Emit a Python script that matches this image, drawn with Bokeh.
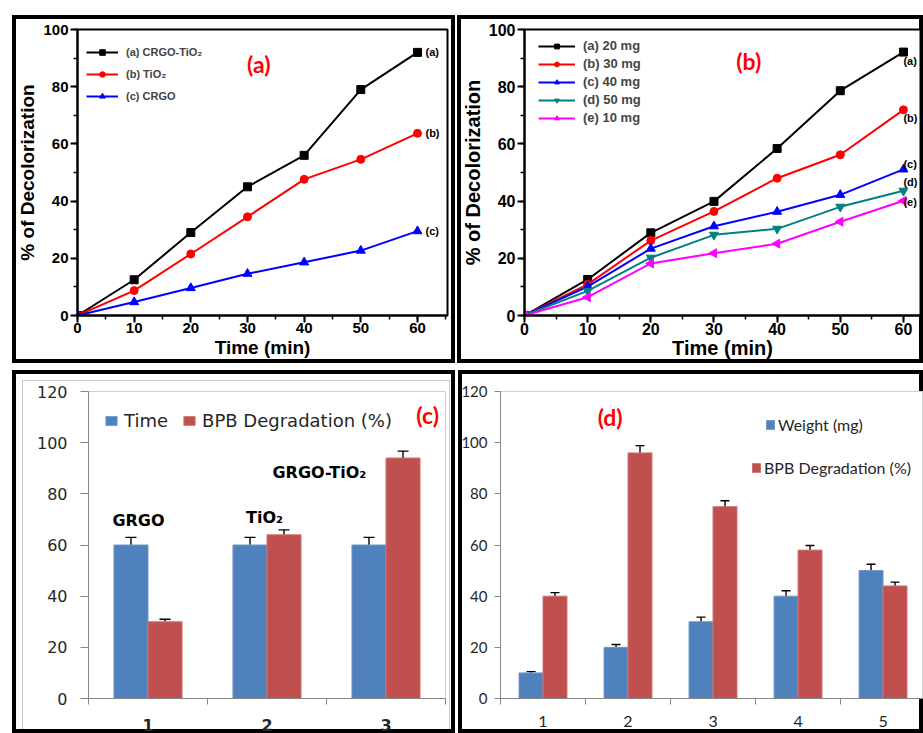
import numpy as np
from bokeh.plotting import figure
from bokeh.layouts import column, row
from bokeh.models import (ColumnDataSource, Legend, LegendItem, Label, Whisker, TeeHead,
                          FixedTicker, SingleIntervalTicker, Spacer, Range1d)
from bokeh.transform import dodge
from bokeh.core.properties import value
from bokeh.embed import file_html
from bokeh.resources import INLINE

# ---------------- data ----------------
# Panel (a)
time_min = [0, 10, 20, 30, 40, 50, 60]
a_names = ["(a) CRGO-TiO₂", "(b) TiO₂", "(c) CRGO"]
a_tags = ["(a)", "(b)", "(c)"]
a_crgo_tio2 = [0, 12.5, 29, 45, 56, 79, 92]
a_tio2 = [0, 8.7, 21.5, 34.5, 47.6, 54.6, 63.7]
a_crgo = [0, 4.7, 9.6, 14.6, 18.6, 22.7, 29.5]

# Panel (b)
b_names = ["(a) 20 mg", "(b) 30 mg", "(c) 40 mg", "(d) 50 mg", "(e) 10 mg"]
b_tags = ["(a)", "(b)", "(c)", "(d)", "(e)"]
b_20mg = [0, 12.6, 28.9, 39.9, 58.4, 78.6, 92.1]
b_30mg = [0, 10.9, 26.2, 36.4, 48.0, 56.2, 71.9]
b_40mg = [0, 10.1, 23.4, 31.2, 36.3, 42.2, 51.1]
b_50mg = [0, 8.6, 20.2, 28.2, 30.3, 38.0, 43.6]
b_10mg = [0, 6.4, 18.2, 21.8, 25.1, 32.8, 40.1]

# Panel (c)
c_cats = [1, 2, 3]
c_names = ["GRGO", "TiO₂", "GRGO-TiO₂"]
c_time = [60, 60, 60]
c_time_err = [3, 3, 3]
c_bpb = [30, 64, 94]
c_bpb_err = [1.0, 1.9, 2.7]

# Panel (d)
d_cats = [1, 2, 3, 4, 5]
d_weight = [10, 20, 30, 40, 50]
d_weight_err = [0.5, 1.1, 1.8, 2.1, 2.5]
d_bpb = [40, 96, 75, 58, 44]
d_bpb_err = [1.4, 2.85, 2.3, 1.8, 1.5]

BLUE_BAR = "#4F81BD"
RED_BAR = "#C0504D"
AXIS_GRAY = "#868686"


def frame_css(p, extra=""):
    p.border_fill_alpha = 0
    shadow = ("inset 4px 0 0 0 black, inset -4px 0 0 0 black, "
              "inset 0 4px 0 0 black, inset 0 -4px 0 0 black")
    if extra:
        shadow = shadow + ", " + extra
    p.styles = {"box-shadow": shadow}


def origin_axes(p, tick_px, title_px, x_title_standoff):
    p.grid.visible = False
    p.outline_line_color = "black"
    p.outline_line_width = 2
    for ax in (p.xaxis[0], p.yaxis[0]):
        ax.axis_line_width = 2
        ax.axis_line_color = "black"
        ax.major_tick_line_width = 2
        ax.minor_tick_line_width = 1.5
        ax.major_tick_in = 0
        ax.major_tick_out = 7
        ax.minor_tick_in = 0
        ax.minor_tick_out = 4
        ax.major_label_standoff = 2
        ax.major_label_text_font = "Liberation Sans"
        ax.major_label_text_font_style = "bold"
        ax.major_label_text_font_size = tick_px
        ax.major_label_text_color = "black"
        ax.axis_label_text_font = "Liberation Sans"
        ax.axis_label_text_font_style = "bold"
        ax.axis_label_text_font_size = title_px
        ax.axis_label_text_color = "black"
        ax.axis_label_standoff = 2
    p.xaxis.axis_label_standoff = x_title_standoff
    p.xaxis.major_label_standoff = 0
    p.xaxis.ticker = SingleIntervalTicker(interval=10, num_minor_ticks=2)
    p.yaxis.ticker = SingleIntervalTicker(interval=20, num_minor_ticks=2)


def line_panel(p, series, names, colors, markers, angles, sizes):
    items = []
    for ys, name, col, mk, ang, sz in zip(series, names, colors, markers, angles, sizes):
        l = p.line(time_min, ys, line_color=col, line_width=2)
        s = p.scatter(time_min, ys, marker=mk, size=sz, angle=ang,
                      fill_color=col, line_color=col)
        items.append(LegendItem(label=name, renderers=[l, s]))
    return items


# ---------------- panel (a) ----------------
pa = figure(width=443, height=348, x_range=Range1d(0, 65.3), y_range=Range1d(0, 100),
            output_backend="svg", toolbar_location=None,
            min_border_left=65, min_border_right=8, min_border_top=14, min_border_bottom=48,
            x_axis_label="Time (min)", y_axis_label="% of Decolorization")
origin_axes(pa, "15px", "19px", 1)
a_series = [a_crgo_tio2, a_tio2, a_crgo]
items_a = line_panel(pa, a_series, a_names, ["black", "red", "blue"],
                     ["square", "circle", "triangle"], [0, 0, 0], [8, 8, 9])
leg_a = Legend(items=items_a, location=(9, 212), padding=0, margin=0,
               glyph_width=32, glyph_height=14, label_height=14, spacing=8,
               label_standoff=8, border_line_alpha=0, background_fill_alpha=0,
               label_text_font="Liberation Sans", label_text_font_style="bold",
               label_text_font_size="11px")
pa.add_layout(leg_a)
pa.text(x=[time_min[-1]] * len(a_tags), y=[s[-1] for s in a_series], text=a_tags,
        x_offset=8, text_font=value("Liberation Sans"), text_font_style="bold",
        text_font_size="11px", text_baseline="middle", text_color="black")
pa.add_layout(Label(x=32, y=88, text="(a)", text_color="red", text_font="Lato",
                    text_font_style="bold", text_font_size="23px",
                    text_align="center", text_baseline="middle"))
frame_css(pa)

# ---------------- panel (b) ----------------
pb = figure(width=466, height=348, x_range=Range1d(0, 62.7), y_range=Range1d(0, 100),
            output_backend="svg", toolbar_location=None,
            min_border_left=67, min_border_right=3, min_border_top=14, min_border_bottom=46,
            x_axis_label="Time (min)", y_axis_label="% of Decolorization")
origin_axes(pb, "16px", "20px", -1)
b_series = [b_20mg, b_30mg, b_40mg, b_50mg, b_10mg]
items_b = line_panel(pb, b_series, b_names,
                     ["black", "red", "blue", "#008080", "#FF00FF"],
                     ["square", "circle", "triangle", "inverted_triangle", "triangle"],
                     [0, 0, 0, 0, np.pi / 2], [8, 8, 9, 9, 9])
leg_b = Legend(items=items_b, location=(14, 190), padding=0, margin=0,
               glyph_width=37, glyph_height=12, label_height=12, spacing=3,
               label_standoff=8, border_line_alpha=0, background_fill_alpha=0,
               label_text_font="Liberation Sans", label_text_font_style="bold",
               label_text_font_size="13px")
pb.add_layout(leg_b)
pb.text(x=[time_min[-1]] * len(b_tags), y=[s[-1] for s in b_series], text=b_tags,
        x_offset=0, y_offset=[9, 8, -5, -9, 1], text_font=value("Liberation Sans"),
        text_font_style="bold", text_font_size="11px", text_baseline="middle",
        text_color="black")
pb.add_layout(Label(x=35.5, y=89, text="(b)", text_color="red", text_font="Lato",
                    text_font_style="bold", text_font_size="23px",
                    text_align="center", text_baseline="middle"))
frame_css(pb)


# ---------------- bar panels ----------------
def excel_axes(p, font, y_size, x_size, y_tick_out, y_standoff, x_standoff, cats, bold_x):
    p.grid.visible = False
    p.outline_line_color = "#D0D0D0"
    p.outline_line_width = 1
    p.yaxis.ticker = SingleIntervalTicker(interval=20, num_minor_ticks=0)
    p.xaxis.ticker = FixedTicker(ticks=cats,
                                 minor_ticks=[c - 0.5 for c in cats] + [cats[-1] + 0.5])
    for ax in (p.xaxis[0], p.yaxis[0]):
        ax.axis_line_color = AXIS_GRAY
        ax.major_tick_line_color = AXIS_GRAY
        ax.minor_tick_line_color = AXIS_GRAY
        ax.major_tick_in = 0
        ax.minor_tick_in = 0
        ax.major_label_text_font = font
        ax.major_label_text_color = "#262626"
    p.yaxis.major_label_text_font_size = y_size
    p.xaxis.major_label_text_font_size = x_size
    p.yaxis.major_tick_out = y_tick_out
    p.yaxis.minor_tick_out = 0
    p.yaxis.major_label_standoff = y_standoff
    p.xaxis.major_tick_out = 0
    p.xaxis.minor_tick_out = 6
    p.xaxis.major_label_standoff = x_standoff
    if bold_x:
        p.xaxis.major_label_text_font_style = "bold"


def bar_panel(p, cats, blue, blue_err, red, red_err, width, head):
    src = ColumnDataSource(dict(
        x=cats, blue=blue, red=red,
        b_up=[v + e for v, e in zip(blue, blue_err)],
        b_lo=[v - e for v, e in zip(blue, blue_err)],
        r_up=[v + e for v, e in zip(red, red_err)],
        r_lo=[v - e for v, e in zip(red, red_err)],
    ))
    off = width / 2
    rb = p.vbar(x=dodge("x", -off), top="blue", width=width, source=src,
                fill_color=BLUE_BAR, line_color="#6F97C8", line_width=1)
    rr = p.vbar(x=dodge("x", off), top="red", width=width, source=src,
                fill_color=RED_BAR, line_color="#D07370", line_width=1)
    for base, up, lo in ((dodge("x", -off), "b_up", "b_lo"), (dodge("x", off), "r_up", "r_lo")):
        p.add_layout(Whisker(source=src, base=base, upper=up, lower=lo,
                             line_color="black", line_width=1.4,
                             upper_head=TeeHead(size=head, line_color="black", line_width=1.4),
                             lower_head=TeeHead(size=head, line_color="black", line_width=1.4)))
    return rb, rr


# ---------------- panel (c) ----------------
pc = figure(width=443, height=363, x_range=Range1d(0.5, 3.5), y_range=Range1d(0, 120),
            output_backend="svg", toolbar_location=None,
            min_border_left=76, min_border_right=10, min_border_top=21, min_border_bottom=35)
excel_axes(pc, "DejaVu Sans", "16px", "16px", 8, 13, 14, c_cats, True)
rb_c, rr_c = bar_panel(pc, c_cats, c_time, c_time_err, c_bpb, c_bpb_err, 0.286, 11)
leg_c = Legend(items=[LegendItem(label="Time", renderers=[rb_c]),
                      LegendItem(label="BPB Degradation (%)", renderers=[rr_c])],
               orientation="horizontal", location=(16, 267), padding=0, margin=0,
               glyph_width=14, glyph_height=11, label_height=11, spacing=14,
               label_standoff=6, border_line_alpha=0, background_fill_alpha=0,
               label_text_font="DejaVu Sans", label_text_font_size="18px",
               label_text_color="#262626")
pc.add_layout(leg_c)
for name, lx, ly in zip(c_names, [0.92, 1.98, 2.44], [69.6, 70.8, 88.3]):
    pc.add_layout(Label(x=lx, y=ly, text=name, text_font="DejaVu Sans",
                        text_font_style="bold", text_font_size="16px", text_color="black",
                        text_align="center", text_baseline="middle"))
pc.add_layout(Label(x=3.35, y=111, text="(c)", text_color="red", text_font="Lato",
                    text_font_style="bold", text_font_size="23px",
                    text_align="center", text_baseline="middle"))
# thick black panel frame plus thin grey chart-area border inside it
frame_css(pc, "inset 10px 10px 0 0 white, inset -5px -2px 0 0 white, "
              "inset 11px 11px 0 0 #C8C8C8, inset -6px -3px 0 0 #C8C8C8")

# ---------------- panel (d) ----------------
pd_ = figure(width=465, height=363, x_range=Range1d(0.5, 5.476), y_range=Range1d(0, 120),
             output_backend="svg", toolbar_location=None,
             min_border_left=42, min_border_right=0, min_border_top=17, min_border_bottom=30)
excel_axes(pd_, "Lato", "15px", "16px", 6, 7, 11, d_cats, False)
rb_d, rr_d = bar_panel(pd_, d_cats, d_weight, d_weight_err, d_bpb, d_bpb_err, 0.282, 9)
leg_common = dict(padding=0, margin=0, glyph_width=10, glyph_height=11, label_height=11,
                  label_standoff=3, border_line_alpha=0, background_fill_alpha=0,
                  label_text_font="Lato", label_text_font_size="16px",
                  label_text_color="#262626")
pd_.add_layout(Legend(items=[LegendItem(label="Weight (mg)", renderers=[rb_d])],
                      location=(265, 264), **leg_common))
pd_.add_layout(Legend(items=[LegendItem(label="BPB Degradation (%)", renderers=[rr_d])],
                      location=(251, 221), **leg_common))
pd_.add_layout(Label(x=1.79, y=110, text="(d)", text_color="red", text_font="Lato",
                     text_font_style="bold", text_font_size="23px",
                     text_align="center", text_baseline="middle"))
frame_css(pd_)

layout = column(
    Spacer(height=15),
    row(Spacer(width=12), pa, Spacer(width=2), pb),
    Spacer(height=7),
    row(Spacer(width=12), pc, Spacer(width=3), pd_),
)

open("out.html", "w").write(file_html(layout, INLINE))
